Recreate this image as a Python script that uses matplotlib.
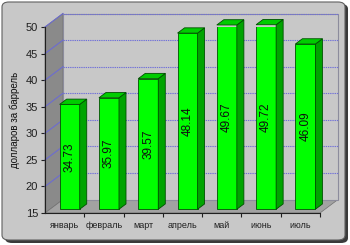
import matplotlib
matplotlib.use('Agg')
import matplotlib.pyplot as plt
from matplotlib.patches import Polygon, FancyBboxPatch

months = ['январь', 'февраль', 'март', 'апрель', 'май', 'июнь', 'июль']
prices = [34.73, 35.97, 39.57, 48.14, 49.67, 49.72, 46.09]
y_ticks = [15, 20, 25, 30, 35, 40, 45, 50]

plt.rcParams['font.family'] = ['Liberation Sans', 'DejaVu Sans']

W, H = 350, 245
fig = plt.figure(figsize=(W / 100, H / 100), dpi=100)
fig.patch.set_facecolor('white')

# rounded grey frame with a small shadow
fig.patches.append(FancyBboxPatch((5 / W, 2 / H), 343 / W, 239 / H,
                                  boxstyle='round,pad=0,rounding_size=0.02',
                                  transform=fig.transFigure, fc='#3a3a3a', ec='none', zorder=-2))
fig.patches.append(FancyBboxPatch((2 / W, 5 / H), 343 / W, 238 / H,
                                  boxstyle='round,pad=0,rounding_size=0.02',
                                  transform=fig.transFigure, fc='#c8c8c8', ec='#606060', lw=0.8, zorder=-1))

ax = fig.add_axes([45 / W, (H - 213) / H, 275 / W, 186 / H])
ax.set_zorder(2)
ax.set_facecolor('none')
n = len(months)
x0, x1 = -0.5, n - 0.5
y0, y1 = 15, 50
ax.set_xlim(x0, x1)
ax.set_ylim(y0, y1)

# depth offset (18 px right, 13.5 px up) in data units
DX = 18 / (275 / n)
DY = 13.5 / (186 / (y1 - y0))

# side wall, floor, back wall
ax.add_patch(Polygon([(x0, y0), (x0, y1), (x0 + DX, y1 + DY), (x0 + DX, y0 + DY)],
                     closed=True, fc='#8a8a8a', ec='#707070', lw=0.5, clip_on=False, zorder=1))
ax.add_patch(Polygon([(x0, y0), (x1, y0), (x1 + DX, y0 + DY), (x0 + DX, y0 + DY)],
                     closed=True, fc='#a2a2a2', ec='#707070', lw=0.5, clip_on=False, zorder=1))
ax.add_patch(Polygon([(x0 + DX, y0 + DY), (x1 + DX, y0 + DY), (x1 + DX, y1 + DY), (x0 + DX, y1 + DY)],
                     closed=True, fc='#c8c8c8', ec='#8c8c9c', lw=0.8, clip_on=False, zorder=1))

# gridlines on back wall and side wall
for t in y_ticks[1:]:
    ax.plot([x0 + DX, x1 + DX], [t + DY, t + DY], color='#7070d8', lw=0.8,
            ls=(0, (1.2, 0.8)), clip_on=False, zorder=2)
    ax.plot([x0, x0 + DX], [t, t + DY], color='#6c6cd0', lw=0.8, clip_on=False, zorder=2)

# bars with 3D faces
d0, d1 = 0.28, 0.67
bw = 0.51
fx, fy = d0 * DX, d0 * DY
sx, sy = (d1 - d0) * DX, (d1 - d0) * DY
xs = list(range(n))
ax.bar([x + fx for x in xs], [v - y0 for v in prices], bottom=y0 + fy, width=bw,
       color='#00ff00', edgecolor='#005000', lw=0.6, zorder=3)
for x, v in zip(xs, prices):
    xr = x + fx + bw / 2
    xl = x + fx - bw / 2
    b, t = y0 + fy, v + fy
    ax.add_patch(Polygon([(xr, b), (xr, t), (xr + sx, t + sy), (xr + sx, b + sy)],
                         closed=True, fc='#00a400', ec='#005000', lw=0.6, zorder=3, clip_on=False))
    ax.add_patch(Polygon([(xl, t), (xr, t), (xr + sx, t + sy), (xl + sx, t + sy)],
                         closed=True, fc='#00cc00', ec='#005000', lw=0.6, zorder=3, clip_on=False))
    ax.text(x + fx, (y0 + v) / 2 + fy, f'{v:.2f}', rotation=90, ha='center', va='center',
            fontsize=8.5, color='#101010', zorder=4)

for s in ['top', 'right']:
    ax.spines[s].set_visible(False)
ax.spines['left'].set_color('#202020')
ax.spines['bottom'].set_color('#202020')
ax.spines['left'].set_zorder(5)
ax.spines['bottom'].set_zorder(5)

ax.set_yticks(y_ticks)
ax.tick_params(axis='y', length=3, width=0.8, labelsize=8, pad=2, colors='#202020')
ax.set_xticks(xs)
ax.set_xticklabels(months)
ax.tick_params(axis='x', which='major', length=0, labelsize=6.5, pad=6, colors='#202020')
ax.set_xticks([x + 0.5 for x in xs], minor=True)
ax.tick_params(axis='x', which='minor', length=3, width=0.8, color='#202020')
ax.set_ylabel('долларов за баррель', fontsize=7, labelpad=4, color='#101010')

fig.savefig('out.png', dpi=100)
